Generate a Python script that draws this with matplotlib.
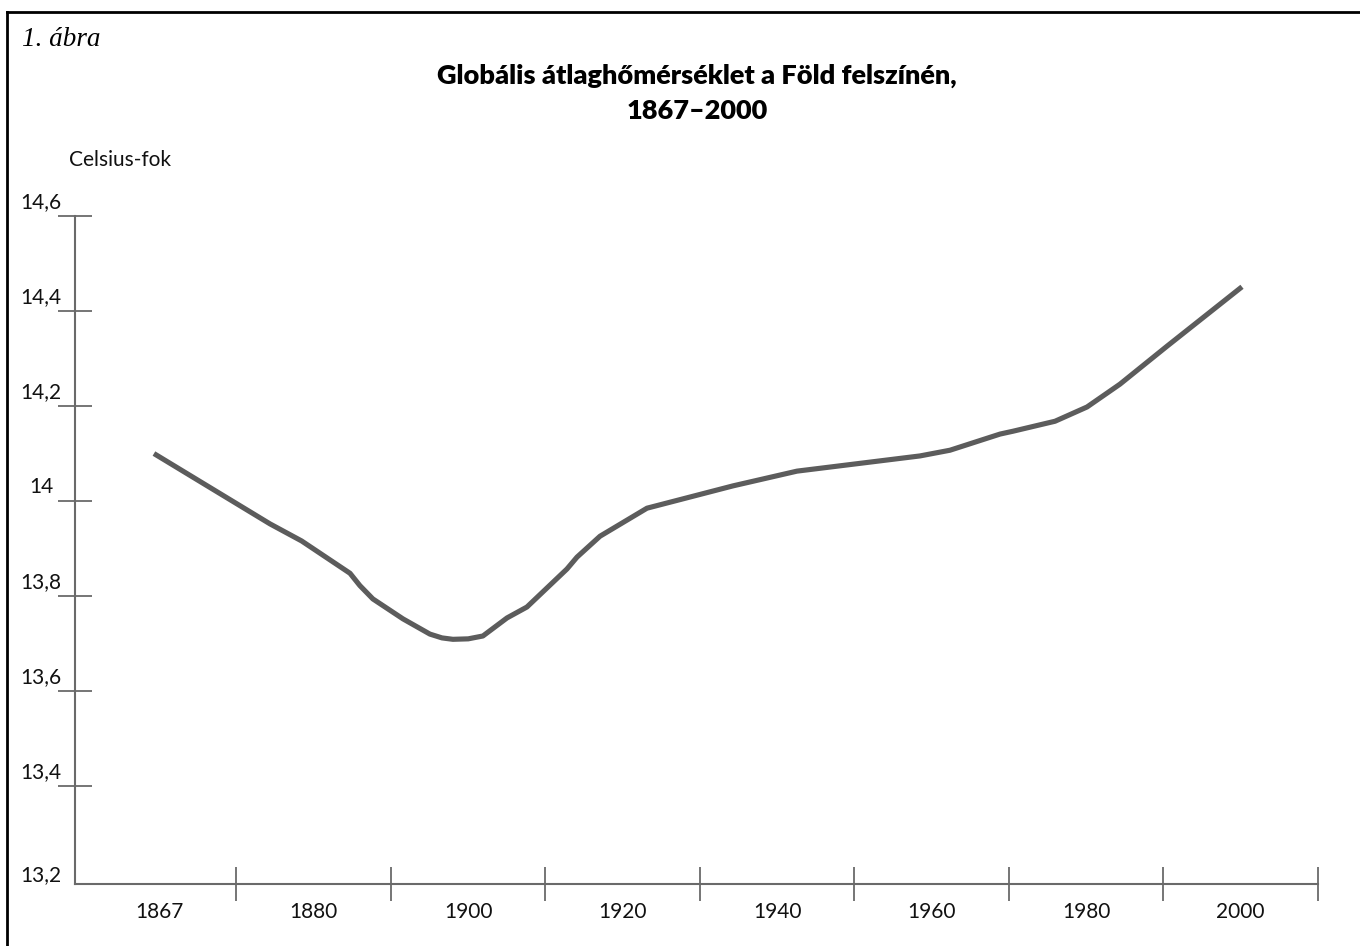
# Globális átlaghőmérséklet a Föld felszínén, 1867-2000

import matplotlib
matplotlib.use("Agg")
import matplotlib.pyplot as plt
from matplotlib.lines import Line2D
from matplotlib.transforms import blended_transform_factory, offset_copy

# x positions are in "period" units: period k spans [k, k+1], label at k+0.5
periods = ["1867", "1880", "1900", "1920", "1940", "1960", "1980", "2000"]

pos = [0.466, 1.217, 1.422, 1.735, 1.799, 1.883, 2.078, 2.252, 2.330, 2.401,
       2.500, 2.595, 2.751, 2.880, 3.139, 3.204, 3.353, 3.657, 4.214, 4.628,
       5.424, 5.618, 5.942, 6.026, 6.298, 6.505, 6.718, 7.023, 7.508]
temp = [14.100, 13.952, 13.916, 13.848, 13.822, 13.794, 13.752, 13.720, 13.712,
        13.709, 13.710, 13.716, 13.754, 13.777, 13.857, 13.882, 13.926, 13.985,
        14.032, 14.063, 14.095, 14.107, 14.141, 14.147, 14.168, 14.198, 14.246,
        14.326, 14.451]

yticks = [13.4, 13.6, 13.8, 14.0, 14.2, 14.4, 14.6]
ylabels = ["13,2", "13,4", "13,6", "13,8", "14", "14,2", "14,4", "14,6"]
ylabel_vals = [13.2] + yticks

AXIS = "#6a6a6a"
LINE = "#5c5c5c"
FONT = "Lato"
FS = 15

W, H = 1360, 946
fig = plt.figure(figsize=(W / 100, H / 100), dpi=100)
fig.patch.set_facecolor("white")

ax = fig.add_axes([75 / W, 1 - 884 / H, 1243 / W, 668 / H])
ax.plot(pos, temp, color=LINE, linewidth=3.7, solid_joinstyle="round",
        solid_capstyle="butt")

ax.set_xlim(-0.045, 8.0)
ax.set_ylim(13.194, 14.6)

for s in ["top", "right"]:
    ax.spines[s].set_visible(False)
for s in ["left", "bottom"]:
    ax.spines[s].set_color(AXIS)
    ax.spines[s].set_linewidth(1.5)

# x axis: boundary ticks, labels at period centres
ax.set_xticks(range(1, 9))
ax.set_xticklabels([])
ax.set_xticks([k + 0.5 for k in range(len(periods))], minor=True)
ax.set_xticklabels(periods, minor=True, fontfamily=FONT, fontsize=FS,
                   color="#111111")
ax.tick_params(axis="x", which="major", direction="inout", length=24,
               width=1.3, color=AXIS)
ax.tick_params(axis="x", which="minor", length=0, pad=13)

# y axis: crossing ticks, labels drawn by hand above the ticks
ax.set_yticks(yticks)
ax.set_yticklabels([])
ax.tick_params(axis="y", which="major", direction="inout", length=24.5,
               width=1.3, color=AXIS)

trans = blended_transform_factory(ax.transAxes, ax.transData)
for v, lab in zip(ylabel_vals, ylabels):
    dy = 0 if v == 13.2 else 8
    t = offset_copy(trans, fig=fig, y=dy, units="dots")
    ax.text((41 - 75) / 1243, v, lab, transform=t, ha="center", va="baseline",
            fontfamily=FONT, fontsize=FS, color="#111111")

# texts
fig.text(22 / W, 1 - 46 / H, "1. ábra", fontfamily="Liberation Serif",
         style="italic", fontsize=19.5, va="baseline", ha="left")
fig.text(697 / W, 1 - 84 / H, "Globális átlaghőmérséklet a Föld felszínén,",
         fontfamily=FONT, fontweight="heavy", fontsize=19.5, ha="center",
         va="baseline")
fig.text(697 / W, 1 - 119 / H, "1867–2000", fontfamily=FONT,
         fontweight="heavy", fontsize=19.5, ha="center", va="baseline")
fig.text(69 / W, 1 - 166 / H, "Celsius-fok", fontfamily=FONT, fontsize=FS,
         ha="left", va="baseline", color="#111111")

# frame (top and left edges visible)
fig.add_artist(Line2D([7 / W, 7 / W], [0, 1 - 12 / H], color="black",
                      linewidth=2, transform=fig.transFigure))
fig.add_artist(Line2D([7 / W, 1], [1 - 12 / H, 1 - 12 / H], color="black",
                      linewidth=2, transform=fig.transFigure))

fig.savefig("out.png", dpi=100)
